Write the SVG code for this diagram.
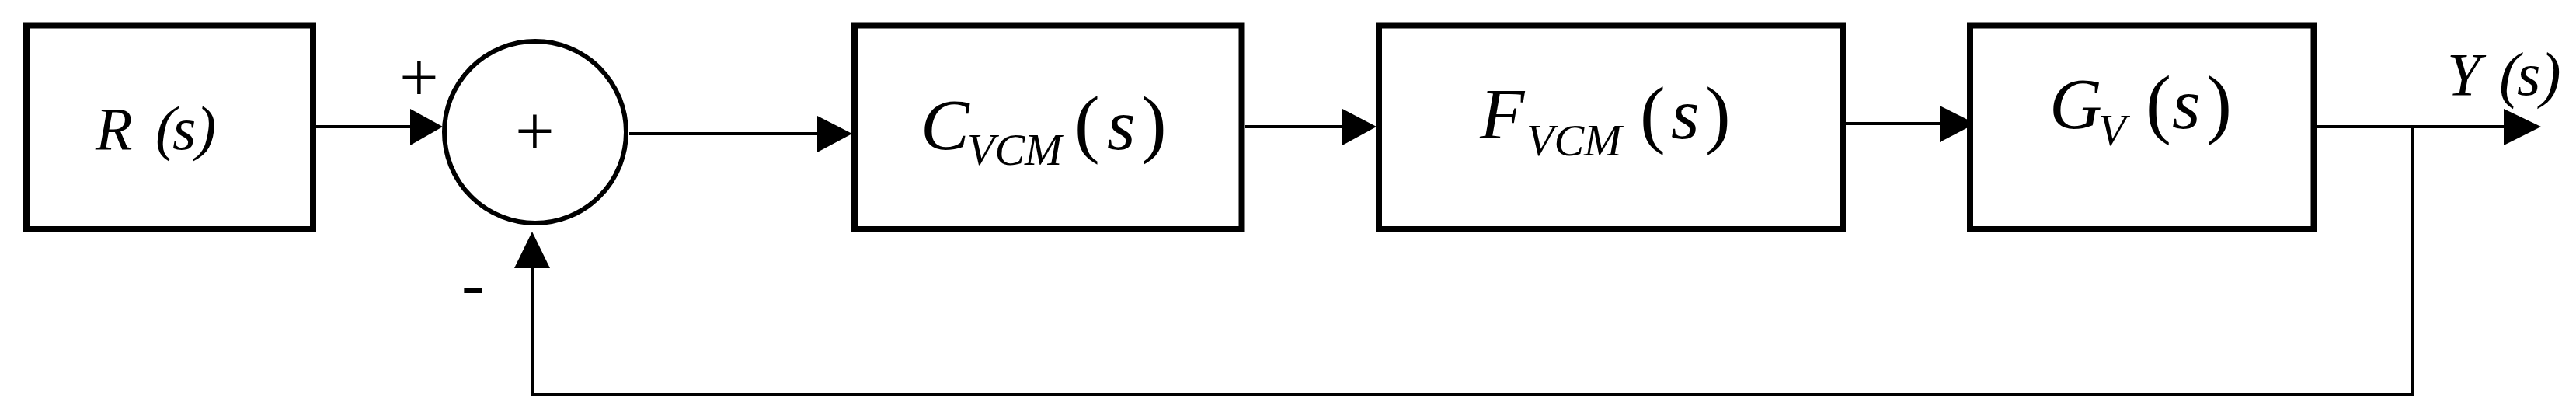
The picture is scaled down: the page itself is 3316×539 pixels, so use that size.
<svg xmlns="http://www.w3.org/2000/svg" width="3316" height="539" viewBox="0 0 3316 539">
<style>
.box{fill:#fff;stroke:#000;stroke-width:8}
.sum{fill:#fff;stroke:#000;stroke-width:6}
.wire{fill:none;stroke:#000;stroke-width:4}
.head{fill:#000;stroke:none}
.t{font-family:"Times New Roman","Liberation Serif",serif;fill:#000}
.i{font-style:italic}
.sign{font-family:"Times New Roman","Liberation Serif",serif;fill:#000;font-size:90px}
</style>
<rect width="3316" height="539" fill="#fff"/>
<g id="connectors">
<line class="wire" x1="407" y1="163" x2="530" y2="163"/>
<polygon class="head" points="528,140 570,163 528,187"/>
<line class="wire" x1="810" y1="172" x2="1054" y2="172"/>
<polygon class="head" points="1052,149 1097,172 1052,196"/>
<line class="wire" x1="1603" y1="163" x2="1730" y2="163"/>
<polygon class="head" points="1728,140 1772,163 1728,187"/>
<line class="wire" x1="2376" y1="159" x2="2499" y2="159"/>
<polygon class="head" points="2497,136 2543,159 2497,183"/>
<line class="wire" x1="2983" y1="163" x2="3225" y2="163"/>
<polygon class="head" points="3223,140 3271,163 3223,187"/>
<polyline class="wire" points="3105,163 3105,508 685,508 685,343"/>
<polygon class="head" points="662,345 685,298 708,345"/>
</g>
<g id="R">
<rect class="box" x="34" y="32.5" width="369" height="262.5"/>
<text class="t i" font-size="78"><tspan x="123" y="192">R</tspan><tspan x="200" y="191" font-size="79">(</tspan><tspan x="222" y="192">s</tspan><tspan x="252" y="191" font-size="79">)</tspan></text>
</g>
<g id="sum">
<circle class="sum" cx="689" cy="170" r="117"/>
<text class="sign" x="663" y="199">+</text>
</g>
<g id="C">
<rect class="box" x="1100" y="32.5" width="498.5" height="262.5"/>
<text class="t" font-size="94"><tspan class="i" x="1185" y="192">C</tspan><tspan class="i" x="1245" y="212" font-size="58">VCM</tspan><tspan x="1383" y="191" font-size="98">(</tspan><tspan class="i" x="1425" y="192">s</tspan><tspan x="1469" y="191" font-size="98">)</tspan></text>
</g>
<g id="F">
<rect class="box" x="1775" y="32.5" width="597" height="262.5"/>
<text class="t" font-size="94"><tspan class="i" x="1905" y="178">F</tspan><tspan class="i" x="1965" y="200" font-size="58">VCM</tspan><tspan x="2111" y="179" font-size="98">(</tspan><tspan class="i" x="2151" y="178">s</tspan><tspan x="2195" y="179" font-size="98">)</tspan></text>
</g>
<g id="G">
<rect class="box" x="2536" y="32.5" width="442.5" height="262.5"/>
<text class="t" font-size="94"><tspan class="i" x="2638" y="165">G</tspan><tspan class="i" x="2701" y="187" font-size="58">V</tspan><tspan x="2762" y="166" font-size="99">(</tspan><tspan class="i" x="2796" y="165">s</tspan><tspan x="2840" y="166" font-size="99">)</tspan></text>
</g>
<g id="labels">
<text class="sign" x="514" y="130">+</text>
<text class="sign" x="594" y="395">-</text>
<text class="t i" font-size="78"><tspan x="3150" y="122">Y</tspan><tspan x="3217" y="123" font-size="80">(</tspan><tspan x="3240" y="122">s</tspan><tspan x="3270" y="123" font-size="80">)</tspan></text>
</g>
</svg>
